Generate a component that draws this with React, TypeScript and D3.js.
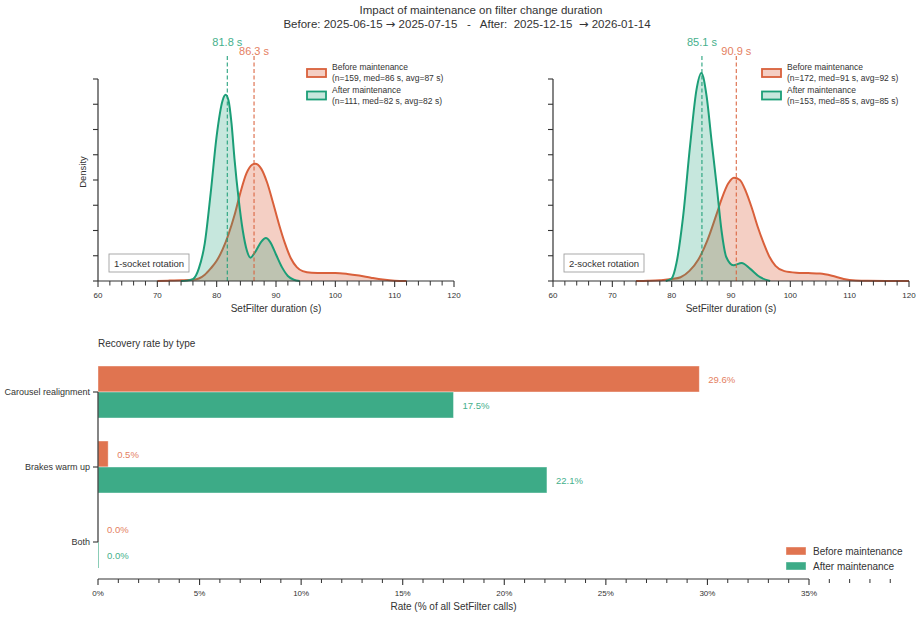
import React from "react";
import * as d3 from "d3";

const W = 922;
const H = 618;
const FONT = "'Liberation Sans', Arial, Helvetica, sans-serif";
const TXT = "#333333";

const titleLine1 = "Impact of maintenance on filter change duration";
const titleLine2Parts = ["Before: 2025-06-15 ", "→", " 2025-07-15   -   After:  2025-12-15  ", "→", " 2026-01-14"];

const panelNames = ["1-socket rotation", "2-socket rotation"];
const beforeLabel = "Before maintenance";
const afterLabel = "After maintenance";
const beforeStats = ["(n=159, med=86 s, avg=87 s)", "(n=172, med=91 s, avg=92 s)"];
const afterStats = ["(n=111, med=82 s, avg=82 s)", "(n=153, med=85 s, avg=85 s)"];
const beforeMedians = [86.3, 90.9];
const afterMedians = [81.8, 85.1];

// density estimates: [duration s, density]
const before1: [number, number][] = [
  [70, 0], [72, 0.0003], [74, 0.0005], [76, 0.001], [77, 0.002], [78, 0.005], [79, 0.01],
  [80, 0.016], [81, 0.025], [82, 0.037], [83, 0.052], [84, 0.07], [85, 0.085], [86, 0.0922],
  [86.5, 0.0928], [87.5, 0.089], [88.5, 0.078], [89.5, 0.062], [90.5, 0.045], [91.5, 0.03],
  [92.5, 0.018], [93.5, 0.011], [94.5, 0.0078], [96, 0.0065], [98, 0.0063], [100, 0.0063],
  [102, 0.0056], [104, 0.0043], [106, 0.0026], [108, 0.0011], [110, 0.0002], [112, 0],
];
const after1: [number, number][] = [
  [74, 0], [75, 0.0003], [76, 0.0015], [77, 0.01], [78, 0.03], [79, 0.07], [80, 0.115],
  [81, 0.143], [81.5, 0.1475], [82, 0.143], [82.5, 0.125], [83, 0.097], [83.7, 0.065],
  [84.4, 0.04], [85.1, 0.024], [85.7, 0.0185], [86.5, 0.023], [87.5, 0.031], [88.3, 0.034],
  [89, 0.031], [90, 0.021], [91, 0.011], [92, 0.004], [93, 0.001], [94, 0],
];
const before2: [number, number][] = [
  [74, 0], [76, 0.0002], [78, 0.0006], [80, 0.0015], [81.5, 0.003], [83, 0.008], [84.5, 0.017],
  [86, 0.032], [87.5, 0.052], [88.5, 0.066], [89.5, 0.077], [90.5, 0.0818], [91.5, 0.08],
  [92.5, 0.071], [93.5, 0.058], [94.5, 0.043], [95.5, 0.03], [96.5, 0.019], [97.5, 0.012],
  [99, 0.0078], [101, 0.0066], [103, 0.0063], [105, 0.0059], [107, 0.0042], [109, 0.0016],
  [111, 0.0004], [113, 0.0001], [120, 0],
];
const after2: [number, number][] = [
  [79, 0], [80, 0.002], [80.8, 0.014], [81.9, 0.05], [83.1, 0.107], [84.2, 0.152],
  [85, 0.1648], [85.9, 0.146], [86.7, 0.112], [87.6, 0.075], [88.4, 0.04], [89.2, 0.019],
  [90.4, 0.0125], [91.8, 0.0143], [93.2, 0.0098], [94.9, 0.003], [96.6, 0],
];
const beforeSeries = [before1, before2];
const afterSeries = [after1, after2];

const categories = ["Carousel realignment", "Brakes warm up", "Both"];
const beforeRates = [29.6, 0.5, 0.0];
const afterRates = [17.5, 22.1, 0.0];

const ORANGE_LINE = "#d9603b";
const GREEN_LINE = "#1b9e77";
const ORANGE_BAR = "#e07450";
const GREEN_BAR = "#3dab87";
const ORANGE_TXT = "#e4805f";
const GREEN_TXT = "#45b08c";

function DensityPanel({ idx, x0 }: { idx: number; x0: number }) {
  const x = d3.scaleLinear().domain([60, 120]).range([x0, x0 + 356]);
  const y = d3.scaleLinear().domain([0, 0.16]).range([281, 79]);
  const area = d3
    .area<[number, number]>()
    .x((d) => x(d[0]))
    .y0(y(0))
    .y1((d) => y(d[1]))
    .curve(d3.curveMonotoneX);
  const line = d3
    .line<[number, number]>()
    .x((d) => x(d[0]))
    .y((d) => y(d[1]))
    .curve(d3.curveMonotoneX);
  const majors = d3.range(60, 121, 10);
  const minors = d3.range(60, 121, 2).filter((v) => v % 10 !== 0);
  const yTicks = d3.range(0, 0.1601, 0.02);
  const bm = beforeMedians[idx];
  const am = afterMedians[idx];
  return (
    <g>
      <path d={area(beforeSeries[idx]) || ""} fill={ORANGE_LINE} fillOpacity={0.3} />
      <path d={line(beforeSeries[idx]) || ""} fill="none" stroke={ORANGE_LINE} strokeWidth={2} />
      <path d={area(afterSeries[idx]) || ""} fill={GREEN_LINE} fillOpacity={0.25} />
      <path d={line(afterSeries[idx]) || ""} fill="none" stroke={GREEN_LINE} strokeWidth={2} />
      <line x1={x(am)} x2={x(am)} y1={56} y2={y(0)} stroke={GREEN_LINE} strokeOpacity={0.8} strokeWidth={1.3} strokeDasharray="4,2.5" />
      <line x1={x(bm)} x2={x(bm)} y1={56} y2={y(0)} stroke={ORANGE_LINE} strokeOpacity={0.8} strokeWidth={1.3} strokeDasharray="4,2.5" />
      <text x={x(am)} y={45.5} textAnchor="middle" fontSize={11} fill={GREEN_TXT}>{am.toFixed(1)} s</text>
      <text x={x(bm)} y={54.5} textAnchor="middle" fontSize={11} fill={ORANGE_TXT}>{bm.toFixed(1)} s</text>
      {/* axes */}
      <line x1={x(60)} x2={x(120)} y1={y(0)} y2={y(0)} stroke={TXT} strokeWidth={1.2} />
      {majors.map((v) => (
        <g key={"M" + v}>
          <line x1={x(v)} x2={x(v)} y1={y(0)} y2={y(0) + 6} stroke={TXT} strokeWidth={1.1} />
          <text x={x(v)} y={y(0) + 16.5} textAnchor="middle" fontSize={8} fill={TXT}>{v}</text>
        </g>
      ))}
      {minors.map((v) => (
        <line key={"m" + v} x1={x(v)} x2={x(v)} y1={y(0)} y2={y(0) + 4.5} stroke={TXT} strokeWidth={1} />
      ))}
      <text x={x(90)} y={311.5} textAnchor="middle" fontSize={10} fill={TXT}>SetFilter duration (s)</text>
      <line x1={x0} x2={x0} y1={y(0)} y2={y(0.16)} stroke={TXT} strokeWidth={1.2} />
      {yTicks.map((v, i) => (
        <line key={"y" + i} x1={x0 - 5} x2={x0} y1={y(v)} y2={y(v)} stroke={TXT} strokeWidth={1.1} />
      ))}
      {idx === 0 && (
        <text transform={`translate(${x0 - 12},172) rotate(-90)`} textAnchor="middle" fontSize={9.5} fill={TXT}>Density</text>
      )}
      {/* rotation box */}
      <rect x={x0 + 11} y={254} width={80} height={18} fill="white" stroke="#a0a0a0" strokeWidth={0.9} />
      <text x={x0 + 51} y={266.5} textAnchor="middle" fontSize={9.5} fill={TXT}>{panelNames[idx]}</text>
      {/* legend */}
      <rect x={x0 + 209} y={69} width={19} height={8} fill={ORANGE_LINE} fillOpacity={0.3} stroke={ORANGE_LINE} strokeWidth={1.8} />
      <text x={x0 + 234} y={70} fontSize={8.5} fill={TXT}>{beforeLabel}</text>
      <text x={x0 + 234} y={80.5} fontSize={8.5} fill={TXT}>{beforeStats[idx]}</text>
      <rect x={x0 + 209} y={91.5} width={19} height={8} fill={GREEN_LINE} fillOpacity={0.25} stroke={GREEN_LINE} strokeWidth={1.8} />
      <text x={x0 + 234} y={93} fontSize={8.5} fill={TXT}>{afterLabel}</text>
      <text x={x0 + 234} y={103.5} fontSize={8.5} fill={TXT}>{afterStats[idx]}</text>
    </g>
  );
}

function RateChart() {
  const x = d3.scaleLinear().domain([0, 35]).range([98, 809]);
  const y = d3.scalePoint<string>().domain(categories).range([392, 542]);
  const bh = 26;
  const axisY = 579;
  const majors = d3.range(0, 36, 5);
  const minors = d3.range(0, 40, 1).filter((v) => v % 5 !== 0);
  return (
    <g>
      <text x={98} y={346.5} fontSize={10} fill={TXT}>Recovery rate by type</text>
      {categories.map((c, i) => {
        const yc = y(c) as number;
        return (
          <g key={c}>
            <rect x={x(0)} y={yc - bh} width={Math.max(x(beforeRates[i]) - x(0), 0)} height={bh} fill={ORANGE_BAR} stroke="white" strokeOpacity={0.5} strokeWidth={0.8} />
            <rect x={x(0)} y={yc} width={Math.max(x(afterRates[i]) - x(0), 0)} height={bh} fill={GREEN_BAR} stroke="white" strokeOpacity={0.5} strokeWidth={0.8} />
            {afterRates[i] === 0 && (
              <line x1={x(0) + 0.5} x2={x(0) + 0.5} y1={yc} y2={yc + bh} stroke={GREEN_BAR} strokeOpacity={0.6} strokeWidth={1} />
            )}
            <text x={x(beforeRates[i]) + 9} y={yc - bh / 2 + 3.5} fontSize={9.5} fill={ORANGE_TXT}>{beforeRates[i].toFixed(1)}%</text>
            <text x={x(afterRates[i]) + 9} y={yc + bh / 2 + 3.5} fontSize={9.5} fill={GREEN_TXT}>{afterRates[i].toFixed(1)}%</text>
            <line x1={93} x2={98} y1={yc} y2={yc} stroke={TXT} strokeWidth={1.1} />
            <text x={90} y={yc + 3} textAnchor="end" fontSize={9} fill={TXT}>{c}</text>
          </g>
        );
      })}
      <line x1={98} x2={98} y1={y(categories[0]) as number} y2={y(categories[2]) as number} stroke={TXT} strokeWidth={1.2} />
      <line x1={x(0)} x2={x(35)} y1={axisY} y2={axisY} stroke={TXT} strokeWidth={1.2} />
      {majors.map((v) => (
        <g key={"M" + v}>
          <line x1={x(v)} x2={x(v)} y1={axisY} y2={axisY + 6} stroke={TXT} strokeWidth={1.1} />
          <text x={x(v)} y={axisY + 16.5} textAnchor="middle" fontSize={8} fill={TXT}>{v}%</text>
        </g>
      ))}
      {minors.map((v) => (
        <line key={"m" + v} x1={x(v)} x2={x(v)} y1={axisY} y2={axisY + 4} stroke={TXT} strokeWidth={1} />
      ))}
      <text x={x(17.5)} y={609.5} textAnchor="middle" fontSize={10} fill={TXT}>Rate (% of all SetFilter calls)</text>
      {/* legend */}
      <rect x={786} y={547} width={20} height={8} fill={ORANGE_BAR} stroke="white" strokeOpacity={0.5} strokeWidth={0.8} />
      <text x={813} y={554.5} fontSize={10} fill={TXT}>{beforeLabel}</text>
      <rect x={786} y={562} width={20} height={8} fill={GREEN_BAR} stroke="white" strokeOpacity={0.5} strokeWidth={0.8} />
      <text x={813} y={569.5} fontSize={10} fill={TXT}>{afterLabel}</text>
    </g>
  );
}

export default function App() {
  return (
    <svg
      width={W}
      height={H}
      viewBox={`0 0 ${W} ${H}`}
      style={{ position: "absolute", left: 0, top: 0, background: "white", fontFamily: FONT }}
    >
      <rect x={0} y={0} width={W} height={H} fill="white" />
      <text x={481} y={14} textAnchor="middle" fontSize={11.5} fill={TXT}>{titleLine1}</text>
      <text x={467} y={27.5} textAnchor="middle" fontSize={11.5} fill={TXT} style={{ whiteSpace: "pre" }}>
        {titleLine2Parts.map((p, i) =>
          p === "→" ? (
            <tspan key={i} fontFamily="'DejaVu Sans', sans-serif">{p}</tspan>
          ) : (
            <tspan key={i}>{p}</tspan>
          )
        )}
      </text>
      <DensityPanel idx={0} x0={98} />
      <DensityPanel idx={1} x0={553} />
      <RateChart />
    </svg>
  );
}
